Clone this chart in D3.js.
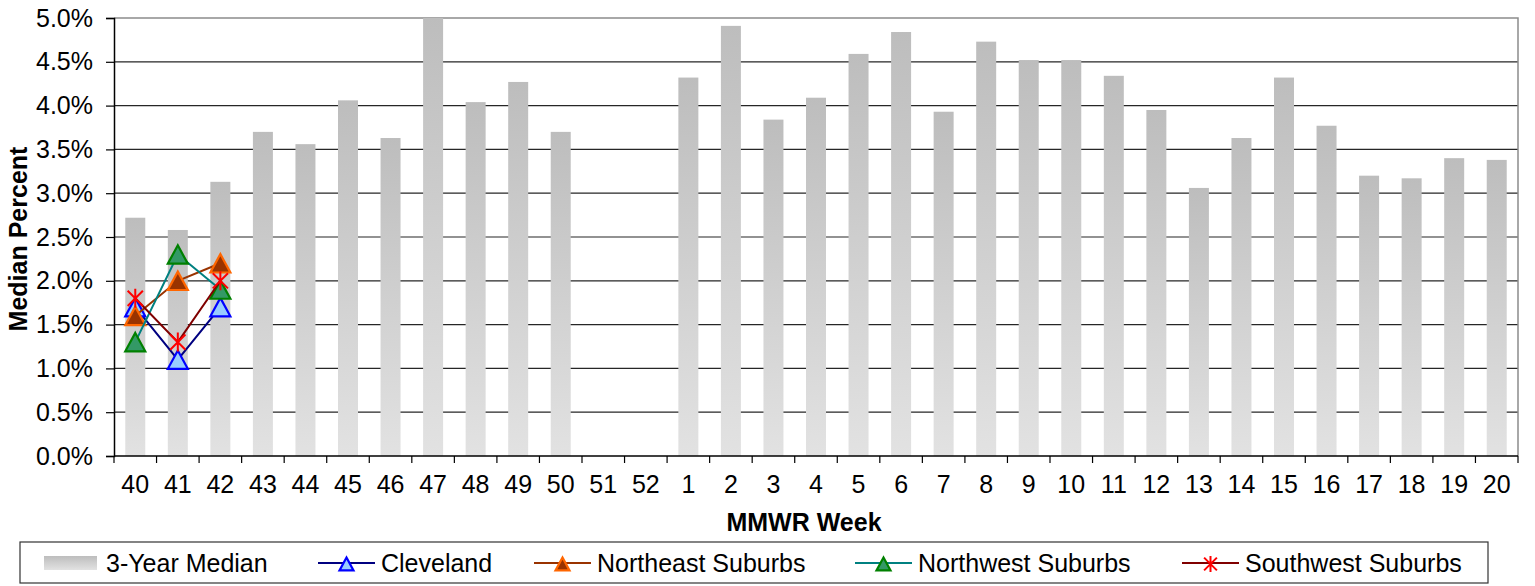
<!DOCTYPE html>
<html>
<head>
<meta charset="utf-8">
<script src="https://cdn.jsdelivr.net/npm/d3@7"></script>
<style>
  html, body { margin: 0; padding: 0; background: #fff; }
  svg text { font-family: "Liberation Sans", Arial, sans-serif; fill: #000; }
</style>
</head>
<body>
<svg id="chart" width="1535" height="586"></svg>
<script>
const weeks = ["40","41","42","43","44","45","46","47","48","49","50","51","52",
  "1","2","3","4","5","6","7","8","9","10","11","12","13","14","15","16","17","18","19","20"];
const median3yr = [2.72,2.58,3.13,3.70,3.56,4.06,3.63,5.00,4.04,4.27,3.70,null,null,
  4.32,4.91,3.84,4.09,4.59,4.84,3.93,4.73,4.52,4.52,4.34,3.95,3.06,3.63,4.32,3.77,3.20,3.17,3.40,3.38];
const cleveland = [1.7,1.1,1.7];
const northeast = [1.6,2.0,2.2];
const northwest = [1.3,2.3,1.9];
const southwest = [1.8,1.3,2.0];
const yTicks = [0,0.5,1.0,1.5,2.0,2.5,3.0,3.5,4.0,4.5,5.0];

const series = [
  {name:"Cleveland", values:cleveland, line:"#000080", stroke:"#0000FF", fill:"#99CCFF", shape:"tri"},
  {name:"Northeast Suburbs", values:northeast, line:"#993300", stroke:"#FF6600", fill:"#993300", shape:"tri"},
  {name:"Northwest Suburbs", values:northwest, line:"#008080", stroke:"#008000", fill:"#339966", shape:"tri"},
  {name:"Southwest Suburbs", values:southwest, line:"#800000", stroke:"#FF0000", fill:"none", shape:"star"}
];

const svg = d3.select("#chart");
const L = 114, R = 1518, T = 18, B = 456;
const FS = 25;

const x = d3.scaleBand().domain(weeks).range([L, R]).padding(0);
const y = d3.scaleLinear().domain([0, 5]).range([B, T]);

const defs = svg.append("defs");
const grad = defs.append("linearGradient").attr("id","barGrad")
  .attr("x1",0).attr("y1",0).attr("x2",0).attr("y2",1);
grad.append("stop").attr("offset","0%").attr("stop-color","#BDBDBD");
grad.append("stop").attr("offset","100%").attr("stop-color","#E2E2E2");

// gridlines
svg.append("g").selectAll("line").data(yTicks.filter(d => d > 0 && d < 5)).join("line")
  .attr("x1", L).attr("x2", R).attr("y1", d => y(d)).attr("y2", d => y(d))
  .attr("stroke", "#262626").attr("stroke-width", 1.2);
// plot border top/right
svg.append("path").attr("d", `M${L},${y(5)}H${R}V${B}`).attr("fill","none")
  .attr("stroke","#8c8c8c").attr("stroke-width",1.5);

// bars
const bw = x.bandwidth() * 0.47;
svg.append("g").selectAll("rect").data(weeks.map((w,i)=>({w, v:median3yr[i]})).filter(d => d.v != null)).join("rect")
  .attr("x", d => x(d.w) + x.bandwidth()/2 - bw/2)
  .attr("width", bw)
  .attr("y", d => y(d.v))
  .attr("height", d => y(0) - y(d.v))
  .attr("fill", "url(#barGrad)");

// axes
const yAxis = d3.axisLeft(y).tickValues(yTicks).tickSize(8).tickPadding(13)
  .tickFormat(d => d.toFixed(1) + "%");
const gy = svg.append("g").attr("transform", `translate(${L},0)`).call(yAxis);
gy.select(".domain").attr("stroke","#000").attr("stroke-width",1.5);
gy.selectAll(".tick line").attr("stroke","#000").attr("stroke-width",1.2);
gy.selectAll(".tick text").attr("font-size", FS).attr("font-family","Liberation Sans, Arial, sans-serif").attr("fill","#000");

const gx = svg.append("g").attr("transform", `translate(0,${B})`);
gx.append("line").attr("x1", L).attr("x2", R).attr("stroke","#000").attr("stroke-width",1.5);
const bounds = weeks.map(w => x(w)).concat([R]);
gx.selectAll("line.tk").data(bounds).join("line").attr("class","tk")
  .attr("x1", d => d).attr("x2", d => d).attr("y1", 0).attr("y2", 7)
  .attr("stroke","#000").attr("stroke-width",1.2);
gx.selectAll("text").data(weeks).join("text")
  .attr("x", d => x(d) + x.bandwidth()/2).attr("y", 37)
  .attr("text-anchor","middle").attr("font-size", FS).text(d => d);

// axis titles
svg.append("text").attr("x", 804).attr("y", 531).attr("text-anchor","middle")
  .attr("font-size", FS).attr("font-weight","bold").text("MMWR Week");
svg.append("text").attr("transform", `translate(27,${(T+B)/2 + 2}) rotate(-90)`).attr("text-anchor","middle")
  .attr("font-size", FS).attr("font-weight","bold").text("Median Percent");

// markers
function drawMarker(g, s, cx, cy, size) {
  if (s.shape === "tri") {
    const w = size, h = size * 0.92;
    g.append("path").attr("d", `M${cx},${cy - h/2}L${cx + w/2},${cy + h/2}L${cx - w/2},${cy + h/2}Z`)
      .attr("fill", s.fill).attr("stroke", s.stroke).attr("stroke-width", 2.2).attr("stroke-linejoin","miter");
  } else {
    const r = size/2;
    const d = r*0.8;
    g.append("path").attr("d", `M${cx-d},${cy-d}L${cx+d},${cy+d}M${cx-d},${cy+d}L${cx+d},${cy-d}M${cx},${cy-r}L${cx},${cy+r}`)
      .attr("stroke", s.stroke).attr("stroke-width", 2).attr("fill","none");
  }
}

const lineGen = d3.line().x((d,i) => x(weeks[i]) + x.bandwidth()/2).y(d => y(d));
series.forEach(s => {
  const g = svg.append("g");
  g.append("path").attr("d", lineGen(s.values)).attr("fill","none")
    .attr("stroke", s.line).attr("stroke-width", 2);
  s.values.forEach((v,i) => drawMarker(g, s, x(weeks[i]) + x.bandwidth()/2, y(v), s.shape === "tri" ? 20 : 19));
});

// legend
const lg = svg.append("g");
lg.append("rect").attr("x", 20).attr("y", 542).attr("width", 1468).attr("height", 41)
  .attr("fill","#fff").attr("stroke","#333").attr("stroke-width",1.2);
const legY = 563;
lg.append("rect").attr("x", 44).attr("y", legY - 7).attr("width", 53).attr("height", 14).attr("fill","url(#barGrad)");
lg.append("text").attr("x", 106).attr("y", legY + 9).attr("font-size", FS).text("3-Year Median");
const legPos = [318, 534, 855, 1182];
series.forEach((s, i) => {
  const x0 = legPos[i];
  lg.append("line").attr("x1", x0).attr("x2", x0 + 57).attr("y1", legY).attr("y2", legY)
    .attr("stroke", s.line).attr("stroke-width", 2);
  drawMarker(lg, s, x0 + 28.5, legY + 1, s.shape === "tri" ? 14 : 16);
  lg.append("text").attr("x", x0 + 63).attr("y", legY + 9).attr("font-size", FS).text(s.name);
});
</script>
</body>
</html>
